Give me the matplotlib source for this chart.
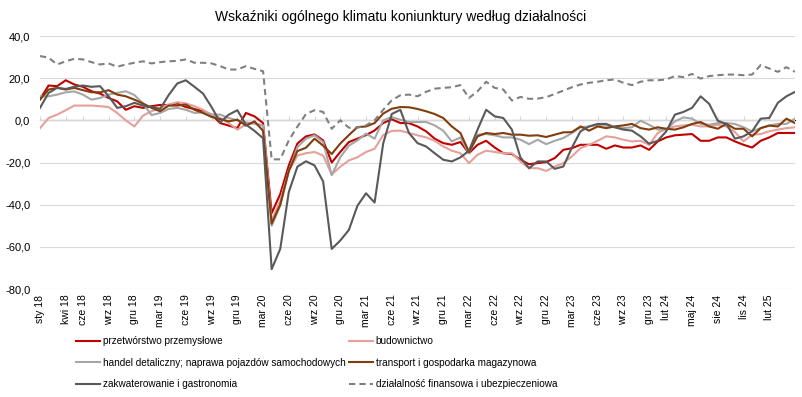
import numpy as np
import pandas as pd
import matplotlib
matplotlib.use('Agg')
import matplotlib.pyplot as plt

plt.rcParams['font.family'] = ['Liberation Sans', 'DejaVu Sans']

    # months from sty 18 to maj 25
months = pd.date_range('2018-01-01', '2025-05-01', freq='MS')

tick_pos    = [0, 3, 5, 8, 11, 14, 17, 20, 23, 26, 29, 32, 35, 38, 41, 44, 47, 50,
               53, 56, 59, 62, 65, 68, 71, 73, 76, 79, 82, 85]
tick_labels = ['sty 18', 'kwi 18', 'cze 18', 'wrz 18', 'gru 18', 'mar 19', 'cze 19',
               'wrz 19', 'gru 19', 'mar 20', 'cze 20', 'wrz 20', 'gru 20', 'mar 21',
               'cze 21', 'wrz 21', 'gru 21', 'mar 22', 'cze 22', 'wrz 22', 'gru 22',
               'mar 23', 'cze 23', 'wrz 23', 'gru 23', 'lut 24', 'maj 24', 'sie 24',
               'lis 24', 'lut 25']

przetworstwo = [10, 16.5, 16.2, 19, 17, 15.9, 13.8, 12.7, 10.6, 9,
                5, 6.7, 5.9, 6.7, 7.3, 7.3, 8, 6.3, 5.4, 4.3,
                2.7, -1.3, -2.5, -3.7, 3.5, 1.9, -1.3, -44, -35, -21.4,
                -11, -7.6, -6.7, -9.5, -20, -15, -10.3, -8.7, -7, -4.8,
                -1.3, 0.5, -1.3, -1.3, -2.9, -5.2, -8.7, -10.8, -11.6, -10.3,
                -15.6, -11.6, -9.7, -12.9, -15.6, -16, -18.7, -20.8, -20.3, -19.8,
                -17.9, -14, -13.2, -11.6, -11.6, -11.6, -13.5, -11.9, -12.9, -12.9,
                -11.9, -14, -10, -8.1, -7.1, -6.8, -6.5, -9.7, -9.7, -8.1,
                -8.1, -10, -11.6, -12.9, -9.7, -8.1, -6, -6, -6]
budownictwo = [-3.7, 1.1, 2.7, 4.8, 7, 7, 7, 6.7, 6.3, 3.5,
               0, -2.9, 2.2, 4.3, 5.9, 7.5, 8.6, 8, 6.7, 5,
               2.7, 1.1, -1.3, -4.4, -2, -1.3, -2.5, -47.6, -38, -24,
               -16.7, -15.6, -15, -16.7, -25.7, -22, -19, -17.5, -15, -13.5,
               -7, -5, -4.9, -6, -7.1, -8.1, -9.7, -12.4, -14.4, -15.6,
               -20.3, -16.3, -14.4, -15, -15.6, -15.6, -19.5, -22.7, -22.7, -24,
               -21.9, -20.3, -17.1, -13.2, -11.6, -9.7, -7.6, -8.1, -9.2, -10,
               -9.7, -11.6, -6, -4, -2.9, -2.4, -2.1, -2.9, -2.9, -2.1,
               -2.9, -5.6, -10, -6.8, -6.5, -5.2, -4.4, -3.7, -3.3]
handel = [11.4, 11.4, 12.2, 13.3, 13.7, 12.2, 9.8, 10.6, 12.2, 13,
          13.8, 12, 8, 2.5, 3.5, 5.4, 5.9, 5, 3.5, 3.8,
          2.7, 2.7, 1.1, 0, -1, -1.6, -2.5, -50, -40.5, -24,
          -12.7, -8.7, -7.1, -10.3, -26, -17.5, -12, -9.5, -6.3, -8.7,
          0, 1.5, 0.3, -0.8, -0.8, -0.8, -2.4, -4.9, -10, -8.1,
          -15.6, -6.8, -6.5, -7.1, -8.1, -8.1, -9.2, -11.3, -9.2, -11.3,
          -9.7, -8.4, -6, -3.3, -2.9, -2.1, -2.5, -3.3, -3.7, -3.3,
          -0.2, -2.1, -4.4, -4.4, -0.5, 1.4, 0.8, -1.7, -2.1, -1.3,
          -1.3, -1.7, -3.3, -5.2, -3.7, -2.4, -1.7, -1.7, 0.8]
transport = [9.8, 14.6, 15.4, 14.6, 15.4, 14.3, 13.3, 13.3, 14.3, 12.2,
             11.4, 9.8, 8, 5.9, 4.3, 7, 7, 7.5, 5, 3.5,
             1.6, 0.6, -0.5, 0.3, -2.5, -0.5, -5, -49, -40, -24,
             -14.6, -13, -8.7, -12, -16, -11, -7, -3.2, -2.9, -1.3,
             3.2, 5.5, 6.3, 6.2, 5.4, 4.3, 3, 1.1, -2.9, -6,
             -15, -7.6, -6, -6.5, -6, -6.8, -6.8, -7.3, -7.1, -7.9,
             -6.8, -5.7, -5.6, -2.9, -4.9, -2.9, -3.7, -2.9, -2.4, -1.7,
             -3.7, -4.4, -3.3, -4, -4.4, -3.3, -1.7, -0.8, -2.9, -4,
             -1.7, -4, -4, -7.6, -3.7, -2.5, -2.9, 0.8, -1.3]
zakwaterowanie = [5.9, 13, 15.4, 14.9, 15.9, 16.5, 15.9, 16.2, 11.4, 5.9,
                  6.7, 8.3, 7, 6.3, 5.4, 12, 17.5, 19, 15.9, 12.7,
                  6.3, -1, 2.7, 4.8, -2, -5, -8.5, -70.6, -61, -34,
                  -22, -19.4, -21.4, -29, -61, -57, -52, -40.5, -34.6, -39,
                  -11, 3, 5, -6, -10.8, -12.4, -15.6, -18.7, -19.5, -17.6,
                  -14.4, -4.4, 5, 1.9, 1.1, -4.4, -17.6, -22.7, -19.5, -19.5,
                  -23, -21.9, -12.9, -5.2, -2.9, -1.7, -1.7, -3.3, -4.4, -4.9,
                  -7.6, -11.1, -9.7, -5.2, 2.7, 4, 5.9, 11.4, 7.8, -0.2,
                  -1.7, -8.7, -7.6, -5.2, 0.8, 1.1, 8.3, 11.4, 13.5]
finanse = [30.5, 29.7, 26.5, 28, 29.2, 28.9, 27.6, 26.5, 27, 25.4,
           26.5, 27.3, 28, 27, 27.6, 28, 28.2, 28.9, 27.3, 27.3,
           27, 25.7, 24.1, 24.1, 25.7, 24.4, 23.3, -18.5, -18.5, -9.5,
           -3, 3, 4.8, 4, -4, 0, -3.5, -3.5, -2.4, 0,
           5, 9.5, 11.9, 12.2, 11.4, 13.5, 15, 15.4, 15.7, 16.7,
           10.6, 13.8, 18.3, 15.4, 14.6, 9.4, 11.1, 10.2, 10.3, 11,
           12.5, 14.1, 15.7, 17, 17.8, 18.3, 19, 19.4, 17.8, 16.7,
           18.3, 19, 19, 19.4, 21, 20.5, 22, 19.8, 21, 21.4,
           21.7, 21.7, 21.4, 21.7, 26.2, 24.6, 23, 25.2, 23]

series = [('przetwórstwo przemysłowe', przetworstwo, '#C00000', '-'),
          ('budownictwo', budownictwo, '#E6A09A', '-'),
          ('handel detaliczny; naprawa pojazdów samochodowych', handel, '#A6A6A6', '-'),
          ('transport i gospodarka magazynowa', transport, '#843C0C', '-'),
          ('zakwaterowanie i gastronomia', zakwaterowanie, '#595959', '-'),
          ('działalność finansowa i ubezpieczeniowa', finanse, '#808080', '--')]

x = np.arange(len(months))

fig = plt.figure(figsize=(8.02, 3.97), dpi=100)
ax  = fig.add_axes([40/802, 1 - 289/397, 755/802, 253/397])

lines = []
for name, vals, col, ls in series:
    line, = ax.plot(x, vals, color=col, lw=1.5, ls=ls, label=name)
    if ls == '--':
        line.set_dashes((3, 2))
    lines.append(line)

ax.set_xlim(0, len(months) - 1)
ax.set_ylim(-80, 40)
ax.set_yticks(np.arange(-80, 41, 20))
ax.set_yticklabels([('%.1f' % v).replace('.', ',') for v in np.arange(-80, 41, 20)], fontsize=8)
ax.grid(axis='y', color='#D9D9D9', lw=0.8)
ax.set_axisbelow(True)
for s in ax.spines.values():
    s.set_visible(False)
ax.tick_params(axis='y', length=0, pad=7)

ax.set_xticks(tick_pos)
ax.set_xticklabels(tick_labels, rotation=90, fontsize=7.5)
ax.tick_params(axis='x', length=0, pad=4)

    # horizontal axis line at zero with small ticks
secax = ax.secondary_xaxis(2/3)
secax.set_xticks(tick_pos)
secax.set_xticklabels([])
secax.tick_params(axis='x', direction='out', length=3, color='#D9D9D9')
secax.spines['bottom'].set_color('#D9D9D9')
secax.spines['bottom'].set_linewidth(0.8)

fig.suptitle('Wskaźniki ogólnego klimatu koniunktury według działalności', y=0.975, fontsize=10)

    # legend filled row by row (2 columns)
order = [0, 2, 4, 1, 3, 5]
fig.legend([lines[k] for k in order], [series[k][0] for k in order],
           loc='upper left', bbox_to_anchor=(76/802, 1 - 336/397), ncol=2, frameon=False,
           fontsize=7.2, handlelength=2.4, handletextpad=0.3, columnspacing=0.3,
           labelspacing=1.15, borderpad=0, borderaxespad=0)

plt.savefig('out.png', dpi=100)
